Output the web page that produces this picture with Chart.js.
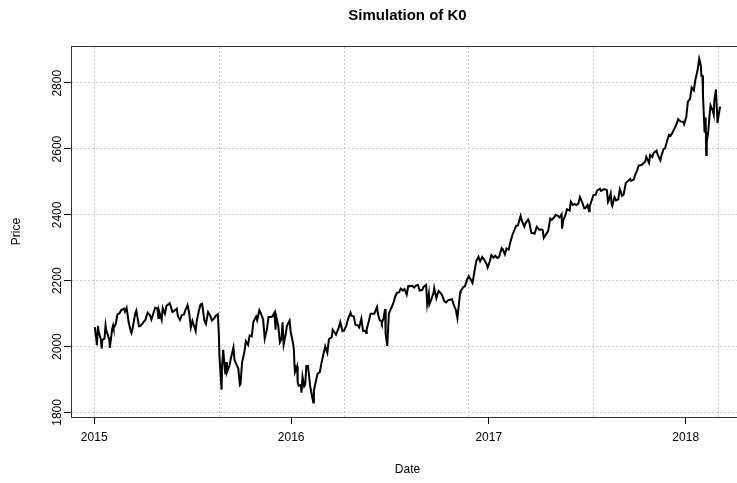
<!DOCTYPE html>
<html>
<head>
<meta charset="utf-8">
<title>Simulation of K0</title>
<script src="https://cdn.jsdelivr.net/npm/chart.js@4.4.0/dist/chart.umd.min.js"></script>
<style>
  html, body { margin: 0; padding: 0; background: #fff; overflow: hidden; }
  #wrap { width: 750px; height: 483px; }
</style>
</head>
<body>
<div id="wrap"><canvas id="chart" width="750" height="483"></canvas></div>
<script>
// closing prices, month-day per year
var days2015 = [
  "01-02","01-05","01-06","01-08","01-09","01-13","01-15","01-16","01-20","01-22","01-23","01-27","01-29","01-30",
  "02-03","02-05","02-06","02-10","02-13","02-17","02-20","02-25","02-27",
  "03-02","03-06","03-10","03-11","03-13","03-18","03-20","03-25","03-27","03-31",
  "04-06","04-10","04-14","04-17","04-22","04-24","04-28","04-30",
  "05-01","05-06","05-08","05-12","05-15","05-21","05-26","05-29",
  "06-03","06-05","06-09","06-12","06-16","06-19","06-23","06-26","06-29",
  "07-02","07-08","07-10","07-14","07-17","07-20","07-24","07-27","07-31",
  "08-04","08-07","08-11","08-14","08-18","08-20","08-21","08-24","08-25","08-26","08-28",
  "09-01","09-03","09-04","09-09","09-11","09-16","09-18","09-22","09-25","09-28","09-29",
  "10-02","10-06","10-09","10-13","10-16","10-20","10-23","10-28","10-30",
  "11-03","11-06","11-10","11-13","11-17","11-20","11-24","11-27",
  "12-01","12-03","12-04","12-08","12-11","12-14","12-16","12-18","12-22","12-24","12-29","12-31"
];
var close2015 = [
  2058,2021,2003,2062,2045,2023,1993,2019,2023,2063,2051,2030,2021,1995,
  2050,2063,2055,2068,2097,2100,2110,2114,2105,
  2117,2071,2044,2040,2053,2099,2108,2061,2061,2068,
  2081,2102,2095,2081,2107,2117,2115,2086,
  2108,2080,2116,2099,2123,2131,2104,2107,
  2114,2092,2080,2094,2096,2110,2125,2101,2057,
  2077,2046,2077,2108,2127,2129,2079,2068,2104,
  2093,2078,2084,2092,2097,2035,1971,1893,1868,1940,1989,
  1914,1952,1921,1943,1962,1996,1958,1943,1932,1882,1884,
  1951,1980,2015,2004,2033,2030,2075,2090,2079,
  2109,2099,2081,2023,2051,2089,2089,2090,
  2102,2050,2092,2063,2012,2022,2073,2005,2038,2061,2078,2044
];

var days2016 = [
  "01-04","01-06","01-07","01-08","01-12","01-13","01-15","01-19","01-20","01-22","01-25","01-27","01-29",
  "02-01","02-03","02-05","02-08","02-11","02-12","02-16","02-19","02-23","02-26",
  "03-01","03-04","03-08","03-11","03-16","03-18","03-24","03-29",
  "04-01","04-05","04-08","04-12","04-15","04-20","04-22","04-26","04-29",
  "05-03","05-06","05-10","05-13","05-17","05-19","05-20","05-24","05-27",
  "06-01","06-03","06-08","06-10","06-13","06-16","06-17","06-20","06-23","06-24","06-27","06-30",
  "07-01","07-08","07-12","07-15","07-19","07-22","07-26","07-29",
  "08-02","08-05","08-09","08-12","08-16","08-19","08-23","08-26","08-31",
  "09-02","09-07","09-09","09-12","09-13","09-16","09-21","09-22","09-26","09-30",
  "10-05","10-07","10-11","10-14","10-18","10-21","10-25","10-28",
  "11-01","11-04","11-07","11-09","11-10","11-15","11-18","11-22","11-25","11-30",
  "12-02","12-07","12-09","12-13","12-16","12-20","12-23","12-28","12-30"
];
var close2016 = [
  2013,1990,1944,1922,1939,1890,1880,1882,1859,1907,1878,1883,1940,
  1940,1912,1880,1853,1829,1865,1896,1917,1921,1948,
  1978,2000,1980,2022,2027,2050,2035,2056,
  2073,2046,2048,2062,2081,2102,2092,2091,2065,
  2064,2057,2084,2047,2047,2040,2052,2077,2099,
  2099,2099,2119,2096,2079,2077,2071,2084,2113,2037,2001,2099,
  2103,2130,2152,2162,2164,2175,2169,2174,
  2157,2183,2182,2184,2178,2184,2186,2169,2171,
  2180,2186,2128,2159,2127,2139,2164,2177,2146,2168,
  2159,2153,2136,2133,2140,2141,2143,2126,
  2111,2085,2131,2163,2167,2180,2182,2203,2213,2199,
  2192,2241,2259,2272,2258,2271,2264,2250,2239
];

var days2017 = [
  "01-03","01-06","01-10","01-13","01-17","01-20","01-25","01-27","01-31",
  "02-03","02-07","02-10","02-14","02-17","02-21","02-24",
  "03-01","03-03","03-08","03-10","03-15","03-17","03-21","03-24","03-27","03-31",
  "04-05","04-07","04-11","04-13","04-18","04-21","04-25","04-28",
  "05-02","05-05","05-09","05-12","05-16","05-17","05-19","05-23","05-26","05-31",
  "06-02","06-06","06-09","06-12","06-16","06-19","06-23","06-27","06-29",
  "07-03","07-06","07-07","07-14","07-18","07-21","07-26","07-28",
  "08-01","08-04","08-08","08-10","08-11","08-15","08-17","08-18","08-22","08-25","08-29",
  "09-01","09-05","09-08","09-12","09-15","09-20","09-22","09-27","09-29",
  "10-03","10-06","10-10","10-13","10-18","10-20","10-25","10-27","10-31",
  "11-03","11-08","11-10","11-15","11-17","11-21","11-24","11-28",
  "12-01","12-04","12-08","12-12","12-15","12-18","12-22","12-27","12-29"
];
var close2017 = [
  2258,2277,2269,2275,2268,2271,2298,2295,2279,
  2297,2293,2316,2338,2351,2366,2367,
  2396,2383,2363,2373,2385,2378,2344,2344,2342,2363,
  2353,2355,2353,2329,2342,2349,2388,2384,
  2391,2399,2396,2391,2401,2357,2382,2398,2416,2412,
  2439,2429,2432,2429,2433,2453,2438,2419,2419,
  2429,2410,2425,2459,2460,2473,2478,2472,
  2476,2477,2474,2438,2441,2464,2430,2426,2453,2443,2446,
  2477,2457,2461,2496,2500,2508,2502,2507,2519,
  2534,2549,2550,2553,2561,2575,2557,2581,2575,
  2588,2594,2582,2565,2579,2599,2602,2627,
  2642,2639,2651,2664,2675,2690,2683,2682,2674
];

var days2018 = [
  "01-02","01-05","01-09","01-12","01-16","01-19","01-23","01-26","01-29","01-30",
  "02-01","02-02","02-05","02-06","02-07","02-08","02-09","02-12","02-14","02-16","02-20","02-22","02-23","02-26","02-27","02-28",
  "03-01","03-02","03-05","03-06"
];
var close2018 = [
  2696,2743,2751,2786,2777,2810,2839,2873,2853,2822,
  2822,2762,2649,2695,2682,2581,2620,2656,2698,2732,2716,2703,2747,2780,2744,2714,
  2678,2691,2721,2728
];

var yearTicks = ["2015-01-01", "2016-01-01", "2017-01-01", "2018-01-01"];
var yearLabels = ["2015", "2016", "2017", "2018"];
var priceTicks = [1800, 2000, 2200, 2400, 2600, 2800];
// dotted vertical grid (days after 2015-01-01)
var gridDays = [0, 231.5, 463, 694, 925, 1156];

function dayOf(s) {
  return (Date.parse(s) - Date.parse("2015-01-01")) / 86400000;
}

var points = [];
[[2015, days2015, close2015], [2016, days2016, close2016],
 [2017, days2017, close2017], [2018, days2018, close2018]].forEach(function (yr) {
  yr[1].forEach(function (md, i) {
    points.push({ x: dayOf(yr[0] + "-" + md), y: yr[2][i] });
  });
});

Chart.defaults.font.family = "'Liberation Sans', Arial, sans-serif";
Chart.defaults.color = "#000";

var gridColor = "#cccccc";
var boxColor = "#333333";
var xMin = -43, xMax = 1204;

new Chart(document.getElementById("chart"), {
  type: "line",
  data: {
    datasets: [{
      data: points,
      borderColor: "#000",
      borderWidth: 2,
      pointRadius: 0,
      tension: 0,
      fill: false,
      xAxisID: "x",
      yAxisID: "y"
    }]
  },
  options: {
    responsive: false,
    animation: false,
    layout: { padding: { left: 0, right: 6, top: 0, bottom: 0 } },
    plugins: {
      legend: { display: false },
      tooltip: { enabled: false }
    },
    scales: {
      x: {
        type: "linear",
        position: "bottom",
        min: xMin,
        max: xMax,
        afterBuildTicks: function (s) { s.ticks = yearTicks.map(function (d) { return { value: dayOf(d) }; }); },
        afterFit: function (s) { s.height = 66; },
        ticks: {
          autoSkip: false, maxRotation: 0, padding: 6,
          font: { size: 12 },
          callback: function (v, i) { return yearLabels[i]; }
        },
        grid: { drawOnChartArea: false, tickLength: 7, tickColor: "#000" },
        border: { color: boxColor },
        title: { display: true, text: "Date", font: { size: 12 }, padding: { top: 0, bottom: 6 } }
      },
      xg: {
        type: "linear",
        position: "top",
        min: xMin,
        max: xMax,
        afterBuildTicks: function (s) { s.ticks = gridDays.map(function (d) { return { value: d }; }); },
        afterFit: function (s) { s.height = 46; },
        ticks: { display: false },
        grid: { color: gridColor, drawTicks: false },
        border: { color: boxColor, dash: [2, 2] },
        title: { display: true, text: "Simulation of K0", font: { size: 15, weight: "bold" }, padding: { top: 7, bottom: 0 } }
      },
      y: {
        type: "linear",
        position: "left",
        min: 1785,
        max: 2912,
        afterBuildTicks: function (s) { s.ticks = priceTicks.map(function (v) { return { value: v }; }); },
        afterFit: function (s) { s.width = 71; },
        ticks: {
          minRotation: 90, maxRotation: 90, padding: 6, labelOffset: -13,
          font: { size: 12 },
          callback: function (v) { return String(v); }
        },
        grid: { color: gridColor, tickColor: "#000", tickLength: 7, tickBorderDash: [] },
        border: { color: boxColor, dash: [2, 2] },
        title: { display: true, text: "Price", font: { size: 12 }, padding: { top: 9, bottom: 0 } }
      }
    }
  }
});
</script>
</body>
</html>
